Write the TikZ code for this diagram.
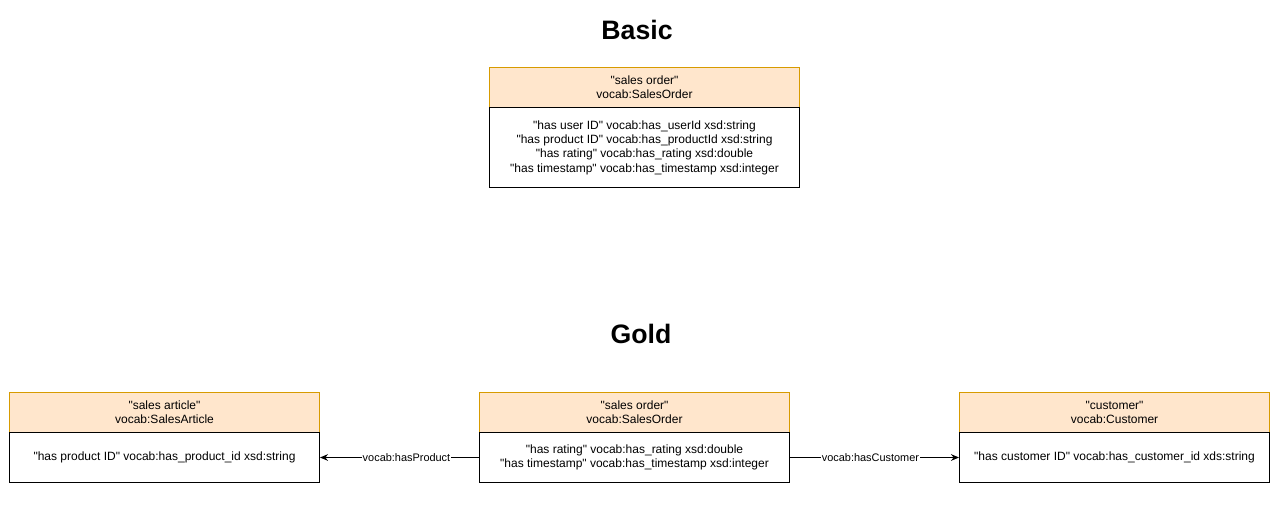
\documentclass[tikz,border=0pt]{standalone}
\usepackage{fontspec}
\setmainfont{Liberation Sans}[Ligatures=TeXOff]
\usetikzlibrary{arrows.meta,positioning}
\definecolor{hdrfill}{HTML}{FFE6CC}
\definecolor{hdrdraw}{HTML}{D79B00}
\newcommand\qq{\char34\relax}
\tikzset{
  px/.style={x=0.75pt,y=-0.75pt},
  hdr/.style={draw=hdrdraw,fill=hdrfill,line width=0.75pt,minimum width=232.5pt,minimum height=30pt,inner sep=0pt,align=center,font=\fontsize{9}{10.5}\selectfont,anchor=north west},
  bodybox/.style={draw=black,fill=white,line width=0.75pt,minimum width=232.5pt,inner sep=0pt,align=center,font=\fontsize{9}{10.8}\selectfont,anchor=north west},
  ttl/.style={font=\bfseries\fontsize{20}{23}\selectfont,inner sep=0pt},
  conn/.style={draw=black,line width=0.75pt,-{Stealth[length=6pt,width=5pt]}},
  elabel/.style={fill=white,font=\fontsize{8.2}{9}\selectfont,inner sep=0.5pt}
}
\begin{document}
\begin{tikzpicture}[px]
\useasboundingbox (0,0) rectangle (1280,531);
\node[ttl] (tbasic) at (637,30) {Basic};
\node[ttl] (tgold) at (641,334) {Gold};
% Basic sales order
\node[hdr] (bh) at (489,67) {\qq sales order\qq\\vocab:SalesOrder};
\node[bodybox,minimum height=60pt] (bb) at (489,107) {\qq has user ID\qq{} vocab:has\_userId xsd:string\\\qq has product ID\qq{} vocab:has\_productId xsd:string\\\qq has rating\qq{} vocab:has\_rating xsd:double\\\qq has timestamp\qq{} vocab:has\_timestamp xsd:integer};
% Gold
\node[hdr] (ah) at (9,392) {\qq sales article\qq\\vocab:SalesArticle};
\node[bodybox,minimum height=37.5pt] (ab) at (9,432) {\qq has product ID\qq{} vocab:has\_product\_id xsd:string};
\node[hdr] (oh) at (479,392) {\qq sales order\qq\\vocab:SalesOrder};
\node[bodybox,minimum height=37.5pt] (ob) at (479,432) {\qq has rating\qq{} vocab:has\_rating xsd:double\\\qq has timestamp\qq{} vocab:has\_timestamp xsd:integer};
\node[hdr] (ch) at (959,392) {\qq customer\qq\\vocab:Customer};
\node[bodybox,minimum height=37.5pt] (cb) at (959,432) {\qq has customer ID\qq{} vocab:has\_customer\_id xds:string};
\draw[conn] (ob.west) -- node[elabel,pos=0.456] {vocab:hasProduct} (ab.east);
\draw[conn] (ob.east) -- node[elabel,pos=0.476] {vocab:hasCustomer} (cb.west);
\end{tikzpicture}
\end{document}
